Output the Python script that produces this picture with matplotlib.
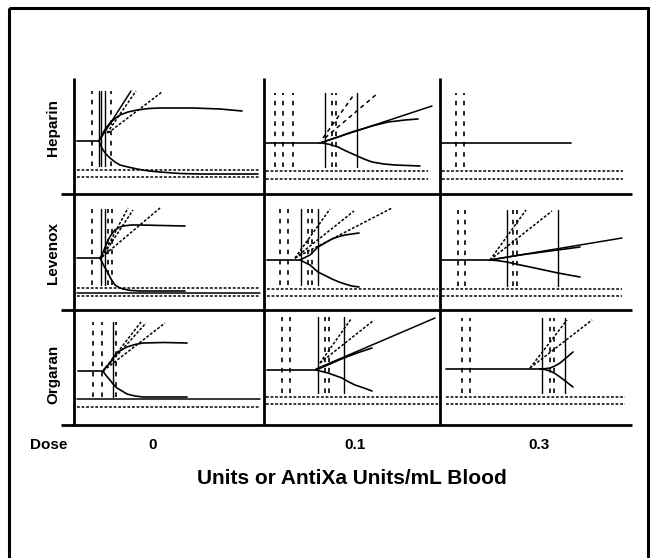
import matplotlib
matplotlib.use("Agg")
import matplotlib.pyplot as plt
from matplotlib.patches import Rectangle

plt.rcParams['font.family'] = ['Liberation Sans', 'DejaVu Sans']
plt.rcParams['lines.scale_dashes'] = False

rows = ["Heparin", "Levenox", "Orgaran"]
doses = ["0", "0.1", "0.3"]
x_title = "Units or AntiXa Units/mL Blood"

# one entry per panel, row by row (Heparin 0, 0.1, 0.3, Levenox ..., Orgaran ...)
# time in arbitrary trace units, amplitude in trace units above the panel floor
base_t0 = [3, 2, 0, 3, 3, 2, 4, 3, 6]
base_t1 = [25, 56, 131, 26, 36, 50, 29, 52, 100]
base_amp = [53, 51, 51, 52, 50, 50, 54, 55, 56]

upper_t = [
    [25, 27, 29, 32, 36, 41, 46, 54, 63, 75, 86, 119, 146, 168],
    [56, 65, 74, 82, 91, 100, 108, 116, 124, 133, 141, 154],
    [],
    [26, 28, 30, 32, 34, 37, 41, 45, 49, 57, 66, 111],
    [36, 41, 46, 50, 54, 61, 68, 75, 81, 88, 95],
    [50, 65, 80, 95, 110, 125, 140],
    [29, 32, 36, 39, 43, 48, 53, 61, 69, 90, 113],
    [52, 59, 66, 75, 85, 96, 108],
    [100, 105, 110, 115, 120, 126, 133],
]
upper_a = [
    [53, 57, 61, 66, 71, 75.5, 79, 82, 84, 85.5, 86, 86, 85, 83],
    [51, 54, 57, 60, 63, 65.5, 68, 70, 72, 73, 74, 75],
    [],
    [52, 55.5, 60, 65, 70, 75, 80, 82.5, 84, 85, 85, 84],
    [50, 52.5, 55, 59, 63, 67, 71, 73.5, 75, 76, 77],
    [50, 52.5, 55, 57, 59, 61, 63],
    [54, 58, 62, 67, 72, 75.5, 78, 80.5, 82, 82.5, 82],
    [55, 58, 61, 65, 69, 73, 77],
    [56, 56.3, 57, 59, 62, 67, 73],
]
lower_t = [
    [25, 27, 29, 32, 36, 41, 46, 54, 63, 75, 86, 106, 126, 184],
    [58, 66, 74, 82, 91, 100, 108, 120, 131, 144, 156],
    [],
    [26, 28, 30, 32, 34, 37, 41, 45, 49, 57, 66, 111],
    [36, 41, 46, 50, 54, 61, 68, 75, 81, 88, 95],
    [50, 58, 67, 78, 90, 104, 118, 129, 140],
    [29, 32, 36, 39, 43, 48, 53, 61, 69, 90, 113],
    [52, 58, 64, 71, 78, 84, 91, 100, 108],
    [100, 105, 110, 115, 120, 126, 133],
]
lower_a = [
    [53, 48, 44, 40, 36, 32, 29, 27, 25, 23, 22, 20.5, 20, 20],
    [51, 49.5, 47, 43, 39, 35, 32, 30, 29, 28.5, 28],
    [],
    [52, 48, 44, 40.5, 37, 31, 25, 22.5, 21, 19.5, 19, 19],
    [50, 47.5, 45, 41.5, 38, 34.5, 31, 28, 26, 24, 23],
    [50, 49.3, 48, 45.5, 43, 40, 37, 35, 33],
    [54, 49.5, 45, 41, 37, 34, 31, 29, 28, 28, 28],
    [55, 53.5, 52, 49.5, 47, 43.5, 40, 37, 34],
    [56, 55.5, 54, 51.5, 48, 43.5, 38],
]

# straight solid trend lines: start time, start amp, end time, end amp
trend = [
    [(25, 53, 57, 103)],
    [(56, 51, 168, 88)],
    [],
    [],
    [],
    [(50, 50, 182, 72)],
    [],
    [(52, 56, 171, 107)],
    [],
]
# angle tangents (dotted, dashed for Heparin 0.1)
tangents = [
    [(33, 61, 62, 103), (34, 61, 88, 102)],
    [(59, 56, 89, 98), (61, 56, 114, 101)],
    [],
    [(28, 53, 54, 102), (28, 53, 59, 100), (28, 53, 86, 102)],
    [(31, 52, 66, 101), (31, 52, 90, 99), (31, 52, 128, 102)],
    [(50, 50, 86, 100), (50, 50, 112, 99)],
    [(29, 54, 67, 103), (29, 54, 72, 102), (29, 54, 91, 102)],
    [(56, 62, 87, 106), (56, 62, 110, 105)],
    [(90, 57, 127, 105), (90, 57, 152, 105)],
]
dashed_tangent_panels = [1]

# R / K time markers
dashed_marks = [
    [18, 37],
    [11, 19, 29, 68, 72],
    [16, 24],
    [18, 34, 38],
    [16, 24, 44, 48],
    [18, 25, 73, 77],
    [19, 28, 42],
    [18, 26, 61, 65],
    [22, 30, 110, 114],
]
solid_marks = [
    [24.5, 26.5, 31],
    [61, 93],
    [],
    [27, 31],
    [37, 54],
    [67, 118],
    [39],
    [54, 80],
    [102, 125],
]
mark_lo = [28, 27, 27, 25, 25, 24, 28, 32, 32]
mark_hi = [103, 101, 101, 101, 101, 100, 103, 108, 107]

# reference levels at the bottom of each panel
ref_amp = [
    [24, 17],
    [23, 15],
    [23, 15],
    [22, 14],
    [21, 14],
    [21, 14],
    [18],
    [28, 21],
    [28, 21],
]
ref_t0 = [3, 2, 2, 3, 3, 2, 3, 2, 6]
ref_t1 = [186, 164, 183, 186, 174, 182, 186, 174, 185]
floor_amp = [None, None, None, 17, None, None, 26, None, None]

# layout (pixels)
W, H = 650, 558
col_edges = [74, 264, 440, 632]
row_edges = [78, 194, 310, 425]
grid_left = 61

fig = plt.figure(figsize=(W / 100, H / 100), dpi=100)
frame = fig.add_axes([0, 0, 1, 1])
frame.set_xlim(0, W)
frame.set_ylim(H, 0)
frame.axis('off')

frame.add_patch(Rectangle((9, 8), 639, 600, fill=False, lw=2.2, ec='black'))
for x in col_edges[:3]:
    frame.plot([x, x], [row_edges[0], row_edges[3]], color='black', lw=2.0,
               solid_capstyle='butt')
for y in row_edges[1:]:
    frame.plot([grid_left, col_edges[3]], [y, y], color='black', lw=2.0,
               solid_capstyle='butt')

dash_v = (0, (3.3, 4.1))
dot = (0, (2.0, 1.3))
dash_t = (0, (3.0, 2.6))

for i in range(9):
    r, c = divmod(i, 3)
    w = col_edges[c + 1] - col_edges[c]
    h = row_edges[r + 1] - row_edges[r]
    ax = fig.add_axes([col_edges[c] / W, 1 - row_edges[r + 1] / H, w / W, h / H])
    ax.set_xlim(0, w)
    ax.set_ylim(0, h)
    ax.axis('off')
    kw = dict(color='black', clip_on=False, solid_capstyle='round',
              solid_joinstyle='round')

    for a in ref_amp[i]:
        ax.plot([ref_t0[i], ref_t1[i]], [a, a], ls=dot, lw=1.1, **kw)
    if floor_amp[i] is not None:
        ax.plot([ref_t0[i], ref_t1[i]], [floor_amp[i], floor_amp[i]], lw=1.1, **kw)

    for t in dashed_marks[i]:
        ax.plot([t, t], [mark_lo[i], mark_hi[i]], ls=dash_v, lw=1.2, **kw)
    for t in solid_marks[i]:
        ax.plot([t, t], [mark_lo[i], mark_hi[i]], lw=1.0, **kw)

    style = dash_t if i in dashed_tangent_panels else dot
    for t0, a0, t1, a1 in tangents[i]:
        ax.plot([t0, t1], [a0, a1], ls=style, lw=1.1, **kw)
    for t0, a0, t1, a1 in trend[i]:
        ax.plot([t0, t1], [a0, a1], lw=1.1, **kw)

    ax.plot([base_t0[i], base_t1[i]], [base_amp[i], base_amp[i]], lw=1.2, **kw)
    if upper_t[i]:
        ax.plot(upper_t[i], upper_a[i], lw=1.2, **kw)
        ax.plot(lower_t[i], lower_a[i], lw=1.2, **kw)

label_y = [128, 253, 374]
for name, y in zip(rows, label_y):
    frame.text(53, y, name, rotation=90, ha='center', va='center',
               fontsize=11, fontweight='bold')

dose_x = [153, 355, 539]
frame.text(49, 445, "Dose", ha='center', va='center', fontsize=11, fontweight='bold')
for d, x in zip(doses, dose_x):
    frame.text(x, 445, d, ha='center', va='center', fontsize=11, fontweight='bold')
frame.text(352, 479, x_title, ha='center', va='center', fontsize=15, fontweight='bold')

fig.savefig("out.png", dpi=100)
